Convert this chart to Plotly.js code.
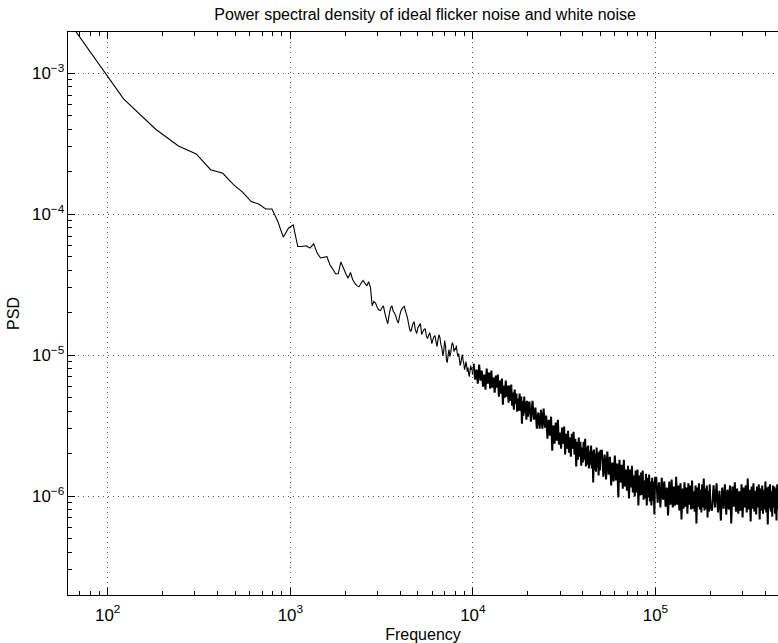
<!DOCTYPE html>
<html>
<head>
<meta charset="utf-8">
<script src="https://cdn.plot.ly/plotly-3.0.1.min.js"></script>
<style>
html, body { margin: 0; padding: 0; background: #ffffff; }
#chart { width: 778px; height: 643px; }
</style>
</head>
<body>
<div id="chart"></div>
<script>
// Individual low-frequency bins (Hz) and PSD values
const freqA = [61.0, 122.1, 183.1, 244.1, 305.2, 366.2, 427.2, 488.3, 549.3, 610.4,
  671.4, 732.4, 793.5, 854.5, 915.5, 976.6, 1037.6, 1098.6, 1159.7, 1220.7,
  1281.7, 1342.8, 1403.8, 1464.8, 1525.9, 1586.9, 1647.9, 1709.0, 1770.0, 1831.1,
  1892.1, 1953.1, 2014.2, 2075.2, 2136.2, 2197.3, 2258.3, 2319.3, 2380.4, 2441.4,
  2502.4, 2563.5, 2624.5, 2685.5, 2746.6, 2807.6, 2868.7, 2929.7, 2990.7, 3051.8,
  3112.8, 3173.8, 3234.9, 3295.9, 3356.9, 3418.0, 3479.0, 3540.0, 3601.1, 3662.1,
  3723.1, 3784.2, 3845.2, 3906.3, 3967.3, 4028.3, 4089.4, 4150.4, 4211.4, 4272.5,
  4333.5, 4394.5, 4455.6, 4516.6, 4577.6];
const psdA = [2.34e-3, 6.58e-4, 4.01e-4, 3.05e-4, 2.68e-4, 2.07e-4, 1.95e-4, 1.62e-4, 1.43e-4, 1.23e-4,
  1.18e-4, 1.09e-4, 1.09e-4, 8.87e-5, 6.87e-5, 7.96e-5, 8.41e-5, 5.90e-5, 5.90e-5, 5.97e-5,
  5.75e-5, 6.17e-5, 5.30e-5, 4.89e-5, 4.95e-5, 5.00e-5, 4.38e-5, 4.08e-5, 3.78e-5, 3.78e-5,
  4.59e-5, 4.15e-5, 3.78e-5, 3.52e-5, 3.86e-5, 3.43e-5, 3.24e-5, 3.10e-5, 3.06e-5, 3.24e-5,
  3.39e-5, 3.24e-5, 3.10e-5, 3.32e-5, 3.04e-5, 2.24e-5, 2.40e-5, 2.34e-5, 2.19e-5, 2.10e-5,
  2.07e-5, 2.16e-5, 2.24e-5, 1.99e-5, 1.81e-5, 1.67e-5, 1.94e-5, 2.16e-5, 2.24e-5, 2.05e-5,
  1.99e-5, 1.89e-5, 1.76e-5, 1.69e-5, 1.89e-5, 2.05e-5, 2.13e-5, 2.19e-5, 2.22e-5, 2.05e-5,
  1.94e-5, 1.81e-5, 1.64e-5, 1.51e-5, 1.47e-5];

// 4.7 kHz - 10 kHz
const freqB = [4680, 4760, 4840, 4920, 5000, 5080, 5160, 5240, 5320, 5400, 5480, 5560, 5640, 5720,
  5800, 5880, 5960, 6040, 6120, 6200, 6280, 6360, 6440, 6520, 6600, 6680, 6760, 6840, 6920, 7000,
  7080, 7160, 7240, 7320, 7400, 7480, 7560, 7640, 7720, 7800, 7880, 7960, 8040, 8120, 8200, 8280,
  8360, 8440, 8520, 8600, 8680, 8760, 8840, 8920, 9000, 9080, 9160, 9240, 9320, 9400, 9480, 9560,
  9640, 9720, 9800, 9880, 9960];
const psdB = [16.46e-6, 17.29e-6, 15.17e-6, 14.21e-6, 15.67e-6, 16.19e-6, 16.73e-6, 13.98e-6, 14.68e-6,
  15.17e-6, 15.42e-6, 13.75e-6, 13.09e-6, 13.75e-6, 14.44e-6, 13.31e-6, 12.07e-6, 12.88e-6, 13.53e-6,
  13.75e-6, 12.47e-6, 11.49e-6, 12.88e-6, 13.98e-6, 13.31e-6, 11.87e-6, 11.30e-6, 9.92e-6, 10.59e-6,
  12.67e-6, 11.68e-6, 9.29e-6, 8.85e-6, 10.08e-6, 10.94e-6, 9.76e-6, 10.42e-6, 11.49e-6, 12.27e-6,
  11.87e-6, 10.59e-6, 11.12e-6, 10.94e-6, 11.68e-6, 10.42e-6, 9.76e-6, 10.25e-6, 9.29e-6, 8.42e-6,
  8.85e-6, 9.60e-6, 10.08e-6, 9.14e-6, 8.70e-6, 7.89e-6, 8.29e-6, 8.99e-6, 8.42e-6, 7.64e-6,
  8.15e-6, 7.39e-6, 7.04e-6, 7.76e-6, 8.42e-6, 7.89e-6, 8.15e-6, 7.27e-6];

// 10 kHz - 20 kHz
const freqC = [10100, 10280, 10460, 10640, 10820, 11000, 11180, 11360, 11540, 11720, 11900, 12080,
  12260, 12440, 12620, 12800, 12980, 13160, 13340, 13520, 13700, 13880, 14060, 14240, 14420, 14600,
  14780, 14960, 15140, 15320, 15500, 15680, 15860, 16040, 16220, 16400, 16580, 16760, 16940, 17120,
  17300, 17480, 17660, 17840, 18020, 18200, 18380, 18560, 18740, 18920, 19100, 19280, 19460, 19640,
  19820, 20000];
const psdC = [8.70e-6, 6.70e-6, 7.89e-6, 6.28e-6, 8.56e-6, 6.59e-6, 7.76e-6, 5.98e-6, 7.27e-6, 5.69e-6,
  8.02e-6, 6.28e-6, 7.51e-6, 5.79e-6, 7.76e-6, 5.88e-6, 6.92e-6, 5.42e-6, 7.15e-6, 5.88e-6,
  7.27e-6, 5.08e-6, 6.59e-6, 5.33e-6, 6.81e-6, 4.45e-6, 6.08e-6, 4.99e-6, 6.59e-6, 5.08e-6,
  6.08e-6, 4.60e-6, 6.08e-6, 4.75e-6, 6.18e-6, 4.38e-6, 5.42e-6, 4.10e-6, 5.69e-6, 4.53e-6,
  5.33e-6, 3.97e-6, 4.91e-6, 4.04e-6, 5.33e-6, 4.04e-6, 5.08e-6, 3.26e-6, 4.75e-6, 3.72e-6,
  5.08e-6, 3.91e-6, 4.68e-6, 3.48e-6, 4.75e-6, 3.66e-6];

// 20 kHz - 50 kHz
const freqD = [20400, 20800, 21200, 21600, 22000, 22400, 22800, 23200, 23600, 24000, 24400, 24800,
  25200, 25600, 26000, 26400, 26800, 27200, 27600, 28000, 28400, 28800, 29200, 29600, 30000, 30400,
  30800, 31200, 31600, 32000, 32400, 32800, 33200, 33600, 34000, 34400, 34800, 35200, 35600, 36000,
  36400, 36800, 37200, 37600, 38000, 38400, 38800, 39200, 39600, 40000, 40400, 40800, 41200, 41600,
  42000, 42400, 42800, 43200, 43600, 44000, 44400, 44800, 45200, 45600, 46000, 46400, 46800, 47200,
  47600, 48000, 48400, 48800, 49200, 49600, 50000];
const psdD = [4.68e-6, 3.37e-6, 4.75e-6, 3.48e-6, 4.24e-6, 3.01e-6, 3.91e-6, 3.01e-6, 4.10e-6, 3.01e-6,
  4.17e-6, 3.06e-6, 3.72e-6, 2.55e-6, 3.48e-6, 2.68e-6, 3.66e-6, 2.10e-6, 3.16e-6, 2.35e-6,
  3.32e-6, 2.47e-6, 3.48e-6, 2.32e-6, 2.82e-6, 2.17e-6, 3.06e-6, 2.35e-6, 3.11e-6, 1.97e-6,
  2.77e-6, 2.17e-6, 2.91e-6, 2.03e-6, 2.60e-6, 1.90e-6, 2.77e-6, 2.17e-6, 2.86e-6, 1.97e-6,
  2.55e-6, 1.62e-6, 2.43e-6, 1.81e-6, 2.60e-6, 1.90e-6, 2.43e-6, 1.64e-6, 2.21e-6, 1.73e-6,
  2.43e-6, 1.81e-6, 2.55e-6, 1.62e-6, 2.24e-6, 1.67e-6, 2.28e-6, 1.57e-6, 2.07e-6, 1.67e-6,
  2.28e-6, 1.57e-6, 2.10e-6, 1.25e-6, 2.14e-6, 1.54e-6, 2.00e-6, 1.49e-6, 2.21e-6, 1.59e-6,
  2.03e-6, 1.40e-6, 2.07e-6, 1.52e-6, 2.10e-6];

// 50 kHz - 100 kHz
const freqE = [50900, 51800, 52700, 53600, 54500, 55400, 56300, 57200, 58100, 59000, 59900, 60800,
  61700, 62600, 63500, 64400, 65300, 66200, 67100, 68000, 68900, 69800, 70700, 71600, 72500, 73400,
  74300, 75200, 76100, 77000, 77900, 78800, 79700, 80600, 81500, 82400, 83300, 84200, 85100, 86000,
  86900, 87800, 88700, 89600, 90500, 91400, 92300, 93200, 94100, 95000, 95900, 96800, 97700, 98600,
  99500];
const psdE = [2.10e-6, 1.37e-6, 1.97e-6, 1.31e-6, 2.07e-6, 1.42e-6, 1.90e-6, 1.19e-6, 1.73e-6, 1.27e-6,
  1.94e-6, 1.29e-6, 1.70e-6, 0.976e-6, 1.81e-6, 1.25e-6, 1.67e-6, 1.13e-6, 1.81e-6, 1.17e-6,
  1.54e-6, 1.09e-6, 1.64e-6, 0.960e-6, 1.54e-6, 1.15e-6, 1.64e-6, 1.06e-6, 1.40e-6, 0.992e-6,
  1.52e-6, 1.06e-6, 1.54e-6, 0.856e-6, 1.40e-6, 1.008e-6, 1.47e-6, 1.02e-6, 1.52e-6, 0.944e-6,
  1.29e-6, 0.960e-6, 1.44e-6, 0.856e-6, 1.35e-6, 0.976e-6, 1.42e-6, 0.914e-6, 1.27e-6, 0.856e-6,
  1.35e-6, 0.929e-6, 1.27e-6, 0.739e-6, 1.35e-6];

// 100 kHz - 200 kHz
const freqF = [101000, 102800, 104600, 106400, 108200, 110000, 111800, 113600, 115400, 117200,
  119000, 120800, 122600, 124400, 126200, 128000, 129800, 131600, 133400, 135200, 137000, 138800,
  140600, 142400, 144200, 146000, 147800, 149600, 151400, 153200, 155000, 156800, 158600, 160400,
  162200, 164000, 165800, 167600, 169400, 171200, 173000, 174800, 176600, 178400, 180200, 182000,
  183800, 185600, 187400, 189200, 191000, 192800, 194600, 196400, 198200, 200000];
const psdF = [1.35e-6, 0.899e-6, 1.25e-6, 0.829e-6, 1.35e-6, 0.944e-6, 1.27e-6, 0.842e-6, 1.15e-6, 0.727e-6,
  1.27e-6, 0.870e-6, 1.31e-6, 0.829e-6, 1.17e-6, 0.856e-6, 1.37e-6, 0.870e-6, 1.19e-6, 0.789e-6,
  1.23e-6, 0.681e-6, 1.13e-6, 0.815e-6, 1.25e-6, 0.842e-6, 1.15e-6, 0.751e-6, 1.23e-6, 0.870e-6,
  1.19e-6, 0.802e-6, 1.29e-6, 0.815e-6, 1.08e-6, 0.776e-6, 1.19e-6, 0.638e-6, 1.15e-6, 0.842e-6,
  1.23e-6, 0.802e-6, 1.11e-6, 0.764e-6, 1.21e-6, 0.829e-6, 1.33e-6, 0.789e-6, 1.13e-6, 0.815e-6,
  1.19e-6, 0.704e-6, 1.09e-6, 0.776e-6, 1.21e-6, 0.842e-6];

// 200 kHz - 500 kHz
const freqG = [204000, 208000, 212000, 216000, 220000, 224000, 228000, 232000, 236000, 240000,
  244000, 248000, 252000, 256000, 260000, 264000, 268000, 272000, 276000, 280000, 284000, 288000,
  292000, 296000, 300000, 304000, 308000, 312000, 316000, 320000, 324000, 328000, 332000, 336000,
  340000, 344000, 348000, 352000, 356000, 360000, 364000, 368000, 372000, 376000, 380000, 384000,
  388000, 392000, 396000, 400000, 404000, 408000, 412000, 416000, 420000, 424000, 428000, 432000,
  436000, 440000, 444000, 448000, 452000, 456000, 460000, 464000, 468000, 472000, 476000, 480000,
  484000, 488000, 492000, 496000, 500000];
const psdG = [0.789e-6, 1.19e-6, 0.829e-6, 1.23e-6, 0.764e-6, 1.09e-6, 0.670e-6, 1.15e-6, 0.815e-6, 1.21e-6,
  0.739e-6, 1.11e-6, 0.802e-6, 1.19e-6, 0.638e-6, 1.17e-6, 0.842e-6, 1.25e-6, 0.776e-6, 1.13e-6,
  0.751e-6, 1.08e-6, 0.789e-6, 1.21e-6, 0.704e-6, 1.15e-6, 0.829e-6, 1.19e-6, 0.764e-6, 1.33e-6,
  0.802e-6, 1.11e-6, 0.659e-6, 1.17e-6, 0.815e-6, 1.23e-6, 0.776e-6, 1.09e-6, 0.739e-6, 1.17e-6,
  0.829e-6, 1.21e-6, 0.681e-6, 1.13e-6, 0.789e-6, 1.19e-6, 0.751e-6, 1.11e-6, 0.802e-6, 1.27e-6,
  0.764e-6, 1.15e-6, 0.628e-6, 1.17e-6, 0.815e-6, 1.21e-6, 0.776e-6, 1.08e-6, 0.715e-6, 1.19e-6,
  0.829e-6, 1.17e-6, 0.751e-6, 1.13e-6, 0.670e-6, 1.21e-6, 0.802e-6, 1.11e-6, 0.776e-6, 1.25e-6,
  0.789e-6, 1.15e-6, 0.692e-6, 1.19e-6, 0.815e-6];

const titleText = 'Power spectral density of ideal flicker noise and white noise';
const xLabel = 'Frequency';
const yLabel = 'PSD';

// sparse part (resolved bins) and dense part (solid noise band)
const freqSparse = [].concat(freqA, freqB);
const psdSparse = [].concat(psdA, psdB);
const freqDense = [].concat(freqC, freqD, freqE, freqF, freqG);
const psdDense = [].concat(psdC, psdD, psdE, psdF, psdG);

const FONT = 'Liberation Sans, Arial, Helvetica, sans-serif';

const traces = [
  {
    x: freqSparse, y: psdSparse, type: 'scatter', mode: 'lines',
    line: { color: '#000000', width: 1.1, simplify: false },
    hoverinfo: 'skip'
  },
  {
    x: freqDense, y: psdDense, type: 'scatter', mode: 'lines',
    line: { color: '#000000', width: 2, simplify: false },
    hoverinfo: 'skip'
  }
];

function axisStyle(extra) {
  return Object.assign({
    type: 'log', dtick: 1, exponentformat: 'power',
    showline: true, linecolor: '#000000', linewidth: 1,
    ticks: 'inside', ticklen: 7, tickwidth: 1, tickcolor: '#000000',
    showgrid: true, gridcolor: '#555555', gridwidth: 1, griddash: '1px,4px',
    zeroline: false,
    minor: { ticks: 'inside', ticklen: 4, tickwidth: 1, tickcolor: '#000000', dtick: 'D1', showgrid: false },
    tickfont: { family: FONT, size: 13.5, color: '#000000' },
    automargin: false, fixedrange: true
  }, extra);
}

const layout = {
  width: 778, height: 643,
  margin: { l: 68, r: 0, t: 32, b: 48, pad: 0 },
  paper_bgcolor: '#ffffff', plot_bgcolor: '#ffffff',
  showlegend: false,
  font: { family: FONT, size: 13, color: '#000000' },
  title: {
    text: titleText,
    font: { family: FONT, size: 16, color: '#000000' },
    xref: 'paper', x: 0.503, xanchor: 'center',
    yref: 'container', y: 0.978, yanchor: 'middle'
  },
  xaxis: axisStyle({
    range: [1.7825, 5.671], mirror: 'ticks', ticklabelstandoff: 5,
    title: { text: xLabel, font: { family: FONT, size: 16, color: '#000000' }, standoff: 6 }
  }),
  yaxis: axisStyle({
    range: [-6.702, -2.707], mirror: false,
    title: { text: yLabel, font: { family: FONT, size: 16, color: '#000000' }, standoff: 8 }
  })
};

Plotly.newPlot('chart', traces, layout, { displayModeBar: false, staticPlot: true });
</script>
</body>
</html>
